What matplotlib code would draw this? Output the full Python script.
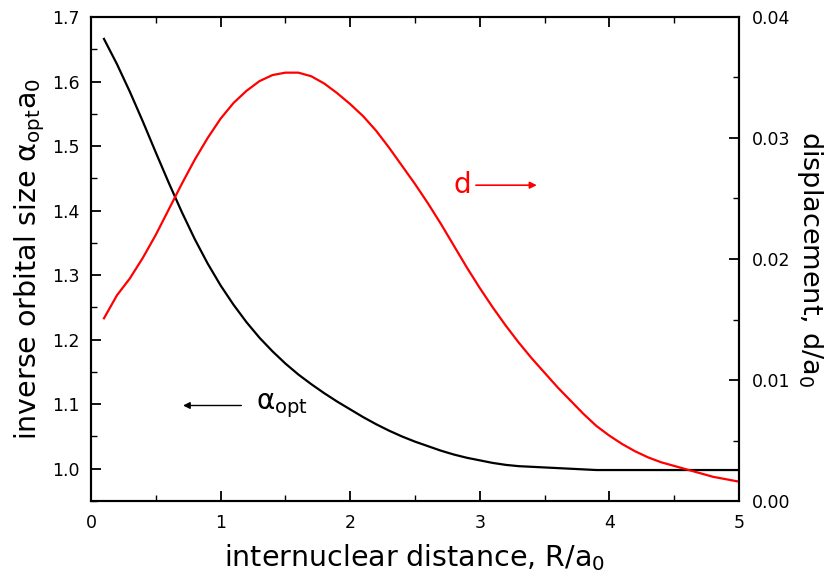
import numpy as np
import matplotlib
matplotlib.use("Agg")
import matplotlib.pyplot as plt
from matplotlib.ticker import MultipleLocator, FormatStrFormatter

# the reference text is wide, DejaVu Sans gives the closest footprint
plt.rcParams['font.family'] = ['DejaVu Sans']
plt.rcParams['mathtext.fontset'] = 'dejavusans'

# internuclear distance R/a0
R = [0.1, 0.2, 0.3, 0.4, 0.5, 0.6, 0.7, 0.8, 0.9, 1.0,
     1.1, 1.2, 1.3, 1.4, 1.5, 1.6, 1.7, 1.8, 1.9, 2.0,
     2.1, 2.2, 2.3, 2.4, 2.5, 2.6, 2.7, 2.8, 2.9, 3.0,
     3.1, 3.2, 3.3, 3.4, 3.5, 3.6, 3.7, 3.8, 3.9, 4.0,
     4.1, 4.2, 4.3, 4.4, 4.5, 4.6, 4.7, 4.8, 4.9, 5.0]

# inverse orbital size alpha_opt * a0 (left axis)
alpha_opt = [1.666, 1.627, 1.584, 1.538, 1.490, 1.443, 1.398, 1.356, 1.318, 1.284,
             1.254, 1.227, 1.203, 1.182, 1.163, 1.146, 1.131, 1.117, 1.104, 1.092,
             1.080, 1.069, 1.059, 1.050, 1.042, 1.035, 1.028, 1.022, 1.017, 1.013,
             1.009, 1.006, 1.004, 1.003, 1.002, 1.001, 1.000, 0.999, 0.998, 0.998,
             0.998, 0.998, 0.998, 0.998, 0.998, 0.998, 0.998, 0.998, 0.998, 0.998]

# displacement d/a0 (right axis)
disp = [0.0151, 0.0170, 0.0184, 0.0201, 0.0220, 0.0241, 0.0262, 0.0282, 0.0300, 0.0316,
        0.0329, 0.0339, 0.0347, 0.0352, 0.0354, 0.0354, 0.0351, 0.0345, 0.0337, 0.0328,
        0.0318, 0.0306, 0.0292, 0.0277, 0.0262, 0.0246, 0.0229, 0.0211, 0.0193, 0.0176,
        0.0160, 0.0145, 0.0131, 0.0118, 0.0106, 0.0094, 0.0083, 0.0072, 0.0062, 0.0054,
        0.0047, 0.0041, 0.0036, 0.0032, 0.0029, 0.0026, 0.0023, 0.0020, 0.0018, 0.0016]

fig = plt.figure(figsize=(8.29, 5.78), dpi=100)
ax = fig.add_axes([0.1098, 0.1332, 0.7816, 0.8374])
ax2 = ax.twinx()

ax.plot(R, alpha_opt, color='black', lw=1.6)
ax2.plot(R, disp, color='red', lw=1.6)

ax.set_xlim(0, 5)
ax.set_ylim(0.95, 1.7)
ax2.set_ylim(0, 0.04)

ax.xaxis.set_major_locator(MultipleLocator(1))
ax.xaxis.set_minor_locator(MultipleLocator(0.5))
ax.yaxis.set_major_locator(MultipleLocator(0.1))
ax.yaxis.set_minor_locator(MultipleLocator(0.05))
ax2.yaxis.set_major_locator(MultipleLocator(0.01))
ax2.yaxis.set_minor_locator(MultipleLocator(0.005))
ax.yaxis.set_major_formatter(FormatStrFormatter('%.1f'))
ax2.yaxis.set_major_formatter(FormatStrFormatter('%.2f'))

ax.tick_params(axis='x', which='both', direction='in', top=True, labelsize=12.5, pad=9)
ax.tick_params(axis='y', which='both', direction='in', right=False, labelsize=12.5, pad=8)
ax2.tick_params(axis='y', which='both', direction='in', labelsize=12.5, pad=9)
for a in (ax, ax2):
    a.tick_params(which='major', length=7, width=1.3)
    a.tick_params(which='minor', length=4, width=1.0)
    for s in a.spines.values():
        s.set_linewidth(1.5)

ax.set_xlabel(r'internuclear distance, R/a$_0$', fontsize=20.5, labelpad=8)
ax.set_ylabel(r'inverse orbital size α$_{\rm opt}$a$_0$', fontsize=20.5, labelpad=4)
ax2.set_ylabel(r'displacement, d/a$_0$', fontsize=19.5, rotation=-90, labelpad=25)

# arrow annotations
ax.annotate('', xy=(0.71, 1.098), xytext=(1.16, 1.098),
            arrowprops=dict(arrowstyle='-|>', color='black', lw=1.0,
                            mutation_scale=10, shrinkA=0, shrinkB=0))
ax.text(1.27, 1.098, r'α$_{\rm opt}$', fontsize=20, va='center', ha='left')

ax2.annotate('', xy=(3.44, 0.0261), xytext=(2.97, 0.0261),
             arrowprops=dict(arrowstyle='-|>', color='red', lw=1.2,
                             mutation_scale=10, shrinkA=0, shrinkB=0))
ax2.text(2.93, 0.0261, 'd', color='red', fontsize=20, va='center', ha='right')

fig.savefig('out.png', dpi=100)
